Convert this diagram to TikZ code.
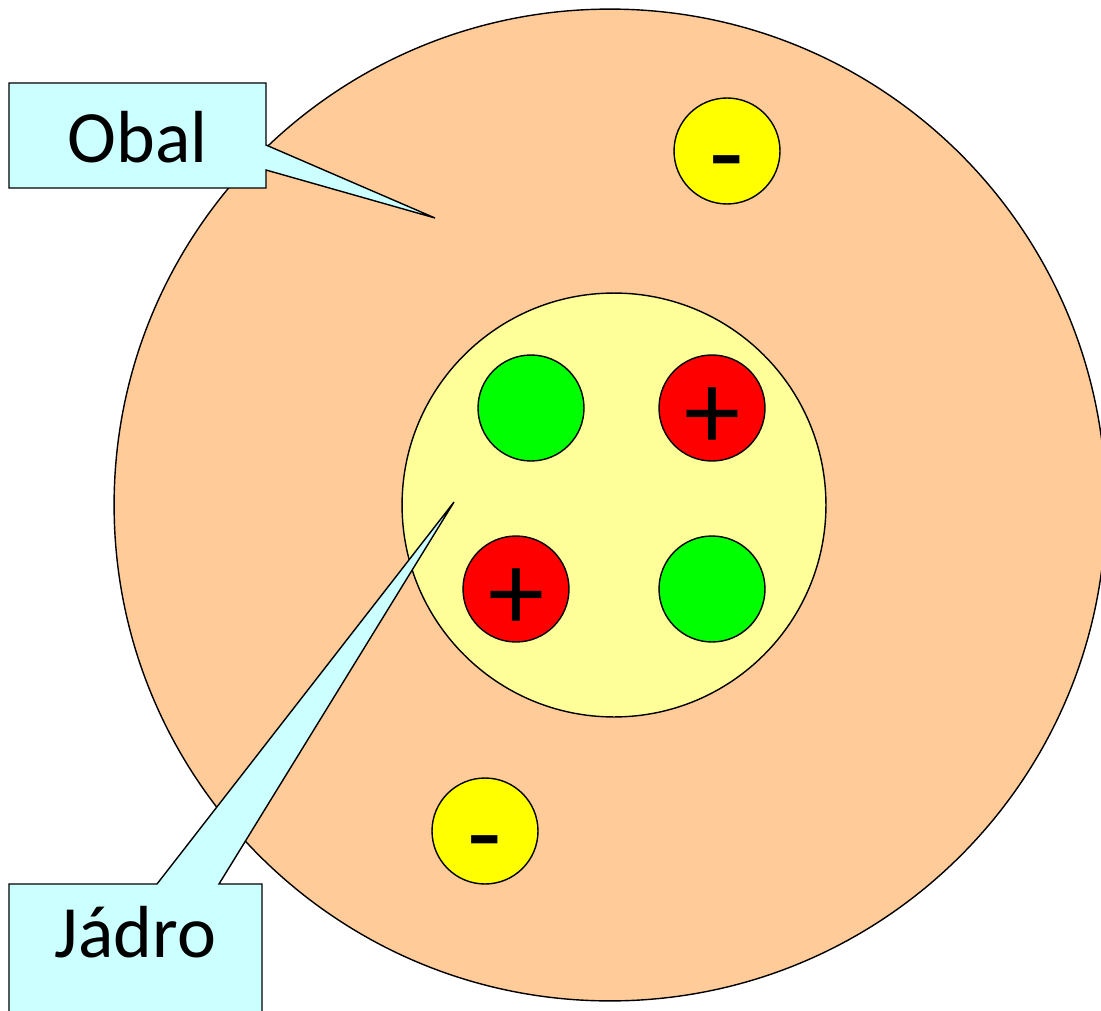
\documentclass[tikz,border=0pt]{standalone}
\usepackage{fontspec}
\setmainfont{Carlito}
\definecolor{shell}{HTML}{FFCC99}
\definecolor{core}{HTML}{FFFF99}
\definecolor{neutron}{HTML}{00FF00}
\definecolor{proton}{HTML}{FF0000}
\definecolor{electron}{HTML}{FFFF00}
\definecolor{callout}{HTML}{CCFFFF}
\tikzset{
  outline/.style={draw=black, line width=0.8pt},
  particle/.style={outline, circle, inner sep=0pt, minimum size=2.12cm},
  sign/.style={inner sep=0pt, font=\fontsize{64}{72}\selectfont},
  calloutbox/.style={outline, fill=callout, line join=miter},
  calltext/.style={inner sep=0pt, font=\fontsize{42}{50}\selectfont}
}
\begin{document}
\begin{tikzpicture}[x=0.02cm, y=-0.02cm]
\useasboundingbox (0,0) rectangle (1101,1010);
\clip (0,0) rectangle (1101,1010);

% atom shell and nucleus
\node[outline, circle, fill=shell, inner sep=0pt, minimum size=19.84cm] (atom) at (610,505) {};
\node[outline, circle, fill=core, inner sep=0pt, minimum size=8.48cm] (nucleus) at (614,505) {};

% nucleons
\node[particle, fill=neutron] (n1) at (531,408) {};
\node[particle, fill=proton]  (p1) at (712,408) {};
\node[particle, fill=proton]  (p2) at (516,589) {};
\node[particle, fill=neutron] (n2) at (712,589) {};
\node[sign] (p1s) at ([yshift=-0.22cm]p1.center) {+};
\node[sign] (p2s) at ([yshift=-0.22cm]p2.center) {+};

% electrons
\node[particle, fill=electron] (e1) at (727,151) {};
\node[particle, fill=electron] (e2) at (485,831) {};
\node[sign] (e1s) at ([yshift=-0.46cm]e1.center) {-};
\node[sign] (e2s) at ([yshift=-0.46cm]e2.center) {-};

% callout pointing into the shell
\coordinate (obaltip) at (435,218);
\draw[calloutbox] (9,83) -- (266,83) -- (266,145) -- (obaltip) -- (266,170)
  -- (266,188) -- (9,188) -- cycle;
\node[calltext] (obal) at (137.5,137) {Obal};

% callout pointing into the nucleus
\coordinate (jadrotip) at (454,502);
\draw[calloutbox] (9,1020) -- (9,884) -- (157,884) -- (jadrotip) -- (219,884)
  -- (262,884) -- (262,1020) -- cycle;
\node[calltext, anchor=base] (jadro) at (135.5,957) {Jádro};
\end{tikzpicture}
\end{document}
